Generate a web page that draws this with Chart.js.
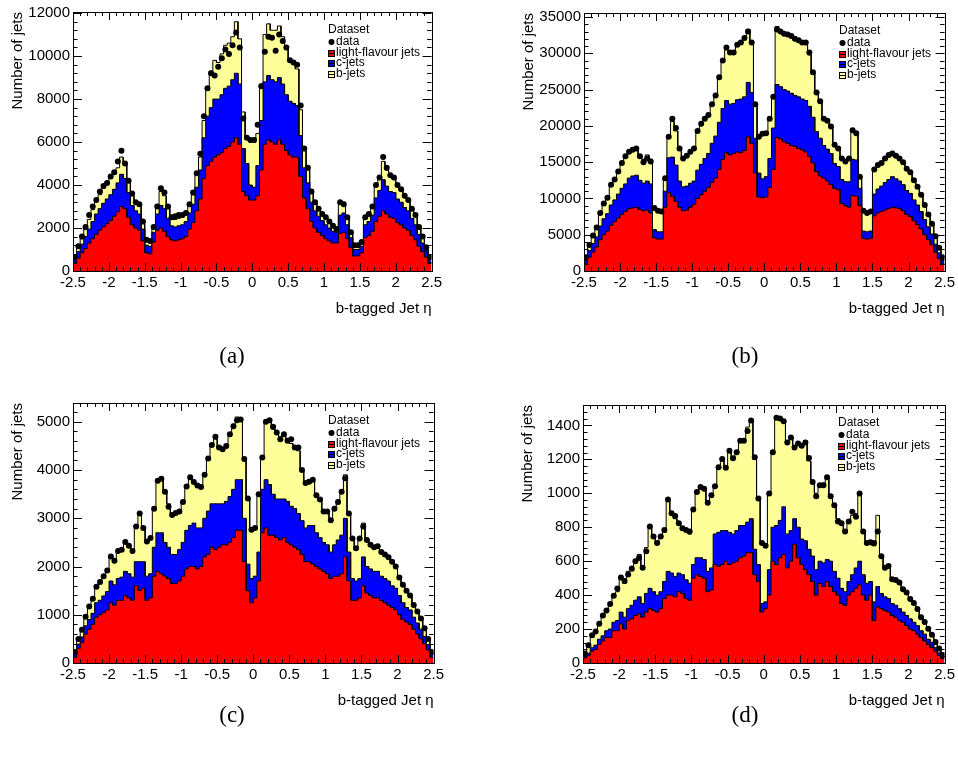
<!DOCTYPE html>
<html>
<head>
<meta charset="utf-8">
<script src="https://cdn.jsdelivr.net/npm/chart.js@4.4.1/dist/chart.umd.min.js"></script>
<style>
  html, body { margin: 0; background: #fff; }
  #page { position: relative; width: 958px; height: 765px; overflow: hidden; }
  #page canvas { position: absolute; }
  .cap {
    position: absolute;
    font: 23px "Liberation Serif", "Times New Roman", serif;
    color: #000;
    transform: translate(-50%, -50%);
  }
</style>
</head>
<body>
<div id="page"></div>
<script>
// Four stacked eta histograms (100 bins of 0.05 between -2.5 and 2.5).
const ETA_MIN = -2.5;
const ETA_MAX = 2.5;
const BIN_WIDTH = 0.05;
const N_BINS = 100;
const X_TICKS = [-2.5, -2, -1.5, -1, -0.5, 0, 0.5, 1, 1.5, 2, 2.5];

// (a)
const lightA = [
  350, 600, 850, 1050, 1300, 1500, 1700, 1900, 2050, 2200,
  2350, 2550, 2750, 3000, 2900, 2500, 2150, 2000, 1900, 1400,
  850, 800, 1350, 1900, 2000, 1850, 1600, 1450, 1400, 1450,
  1500, 1600, 1950, 2250, 2800, 3350, 4300, 4900, 5100, 5300,
  5400, 5500, 5700, 5800, 6000, 6200, 5900, 3700, 3500, 3300,
  3300, 3500, 4700, 5900, 6100, 6000, 5900, 6100, 5900, 5600,
  5400, 5300, 5300, 4400, 3400, 2900, 2300, 2000, 1800, 1650,
  1500, 1400, 1300, 1300, 1750, 1800, 1500, 1100, 700, 700,
  850, 1550, 1650, 1850, 2300, 2550, 2800, 2650, 2500, 2450,
  2250, 2150, 2000, 1900, 1650, 1450, 1150, 900, 650, 350,
];
const cjetsA = [
  180, 300, 400, 550, 650, 800, 950, 1000, 1100, 1150,
  1200, 1250, 1350, 1500, 1400, 1150, 900, 800, 750, 550,
  350, 350, 450, 750, 1050, 1050, 850, 650, 650, 650,
  650, 700, 750, 850, 1100, 1350, 1900, 2300, 2500, 2700,
  2600, 2700, 2800, 2800, 2900, 3000, 2800, 2000, 1500, 700,
  600, 1400, 2300, 2900, 3000, 2900, 2900, 2900, 2800, 2600,
  2500, 2500, 2400, 1900, 1400, 1200, 900, 800, 750, 700,
  650, 600, 550, 500, 850, 900, 650, 450, 300, 300,
  300, 600, 650, 750, 1100, 1200, 1450, 1300, 1200, 1200,
  1100, 1050, 950, 900, 800, 700, 550, 400, 300, 180,
];
const bjetsA = [
  120, 200, 250, 350, 450, 550, 600, 650, 700, 700,
  750, 700, 700, 800, 700, 550, 450, 400, 400, 250,
  200, 200, 200, 350, 650, 600, 450, 350, 350, 350,
  350, 350, 400, 450, 550, 600, 800, 1200, 1700, 1800,
  1700, 1900, 2000, 2000, 2000, 2400, 2100, 1700, 1200, 2000,
  2100, 1500, 1700, 2200, 2400, 2300, 2400, 2400, 2200, 2100,
  1900, 1900, 1700, 1200, 800, 600, 500, 400, 350, 300,
  300, 300, 250, 250, 500, 500, 350, 250, 200, 200,
  200, 350, 350, 400, 550, 650, 850, 750, 700, 650,
  650, 600, 550, 500, 450, 400, 300, 250, 150, 120,
];
const dataA = [
  650, 1150, 1600, 2050, 2600, 3000, 3300, 3700, 3950, 4100,
  4400, 4600, 5100, 5600, 5000, 4200, 3600, 3200, 3100, 2300,
  1450, 1400, 2050, 3000, 3850, 3650, 3000, 2500, 2550, 2600,
  2600, 2700, 3100, 3650, 4550, 5450, 7200, 8500, 9200, 9100,
  9500, 9900, 10300, 10100, 10500, 11100, 10400, 7100, 6200, 6100,
  6100, 6800, 8600, 10200, 10900, 10850, 10250, 11000, 10700, 10400,
  9800, 9700, 9600, 7700, 5700, 4800, 3700, 3200, 2900, 2650,
  2500, 2300, 2100, 1950, 3200, 3100, 2500, 1800, 1200, 1200,
  1350, 2500, 2650, 3000, 4000, 4350, 5300, 4800, 4450, 4350,
  4000, 3800, 3500, 3300, 2900, 2600, 2050, 1600, 1100, 650,
];

// (b)
const lightB = [
  1000, 1900, 2600, 3300, 4300, 5000, 5500, 6300, 6800, 7300,
  7800, 8200, 8600, 8700, 8800, 8500, 8300, 8400, 8000, 4600,
  4400, 4400, 8800, 10800, 10300, 9600, 8800, 8300, 8400, 8800,
  9200, 10000, 10500, 11000, 11500, 12200, 12800, 14000, 15400, 16300,
  16000, 16200, 16400, 16300, 16600, 18500, 17600, 13500, 10200, 10100,
  10200, 11500, 14000, 18400, 18200, 17800, 17600, 17300, 17200, 16900,
  16700, 16400, 15800, 14900, 13700, 13100, 12800, 12400, 11900, 11400,
  11200, 9300, 9000, 8800, 10400, 10300, 9000, 4500, 4400, 4500,
  7600, 8000, 8200, 8400, 8600, 8800, 8700, 8600, 8300, 7800,
  7500, 6900, 6400, 5800, 5000, 4300, 3600, 2600, 1700, 1000,
];
const cjetsB = [
  450, 900, 1200, 1400, 1900, 2200, 2400, 2800, 3000, 3300,
  3600, 3800, 4200, 4400, 4400, 4000, 3800, 4000, 4000, 1100,
  1000, 1000, 2200, 4800, 5400, 5000, 3600, 3300, 3300, 3300,
  3200, 3900, 4200, 4500, 4700, 5400, 5800, 6500, 7000, 7200,
  7000, 6900, 7200, 7400, 7400, 7500, 7000, 4800, 3300, 2600,
  2800, 4000, 5700, 7300, 7200, 7200, 7200, 7200, 7000, 7100,
  7000, 7100, 6900, 6300, 5500, 5200, 4500, 4400, 4300, 3400,
  3200, 3300, 3300, 3500, 5000, 5000, 2400, 1000, 1000, 1000,
  3000, 3300, 3500, 3800, 4000, 4200, 4000, 3800, 3600, 3300,
  3200, 2900, 2700, 2400, 2100, 1800, 1500, 1100, 800, 450,
];
const bjetsB = [
  400, 750, 1050, 1300, 1700, 2000, 2200, 2600, 2800, 3000,
  3300, 3600, 3600, 3600, 3700, 3400, 3300, 3600, 3400, 3000,
  2800, 2800, 1800, 2900, 4900, 4700, 4200, 3800, 4000, 4200,
  4400, 5200, 5400, 5400, 5300, 5400, 5500, 6100, 6600, 7000,
  7000, 7100, 7500, 7700, 8000, 7300, 6900, 4700, 5000, 6000,
  5800, 5400, 4200, 8000, 7700, 7600, 7700, 7800, 7600, 7700,
  7600, 7700, 7100, 6000, 5200, 4900, 3600, 3700, 3600, 2600,
  2400, 2800, 2700, 3100, 3900, 3600, 1600, 2800, 2600, 2700,
  3300, 3300, 3200, 3300, 3400, 3400, 3300, 3100, 3000, 2900,
  2800, 2600, 2400, 2200, 1900, 1600, 1300, 1000, 650, 400,
];
const dataB = [
  1900, 3600, 4900, 6000, 8000, 9300, 10100, 11900, 12600, 13700,
  14900, 15800, 16450, 16700, 16900, 15800, 15000, 15500, 15100, 8700,
  8300, 8200, 12800, 18500, 21000, 19700, 16900, 15500, 15900, 16450,
  16900, 19300, 20300, 21000, 21500, 23000, 24200, 26700, 29000, 30800,
  30100, 30100, 31200, 31500, 32100, 33000, 31500, 23000, 18500, 18900,
  19000, 21000, 24000, 33300, 33000, 32700, 32600, 32400, 32000, 31800,
  31500, 31500, 30100, 27400, 24600, 23400, 21000, 20700, 19900, 17400,
  16900, 15500, 15100, 15500, 19400, 19000, 13000, 8300, 8000, 8200,
  14000, 14600, 14900, 15500, 16000, 16200, 15900, 15500, 15000, 14100,
  13600, 12500, 11600, 10500, 9100, 7800, 6500, 4800, 3200, 1900,
];

// (c)
const lightC = [
  120, 300, 420, 600, 700, 800, 950, 1000, 1050, 1100,
  1250, 1200, 1300, 1300, 1400, 1350, 1300, 1600, 1500, 1550,
  1300, 1350, 1800, 1900, 1850, 1800, 1750, 1650, 1650, 1700,
  1800, 1950, 2000, 2000, 1950, 2000, 2200, 2250, 2400, 2350,
  2400, 2450, 2450, 2500, 2600, 2750, 2750, 2100, 1500, 1250,
  1350, 1700, 2700, 2800, 2650, 2650, 2600, 2550, 2600, 2500,
  2450, 2400, 2350, 2250, 2100, 2100, 2050, 2000, 1950, 1900,
  1850, 1750, 1800, 1800, 1850, 2200, 1700, 1300, 1300, 1350,
  1600, 1450, 1400, 1350, 1350, 1300, 1250, 1200, 1150, 1100,
  1000, 900, 850, 800, 700, 600, 500, 400, 270, 120,
];
const cjetsC = [
  60, 90, 120, 170, 200, 230, 300, 300, 340, 380,
  450, 420, 450, 480, 500, 500, 480, 500, 600, 550,
  500, 500, 600, 800, 850, 700, 650, 600, 600, 650,
  700, 800, 850, 900, 850, 800, 800, 900, 900, 950,
  900, 850, 900, 950, 1000, 1050, 1050, 900, 550, 500,
  450, 600, 900, 1000, 1050, 850, 800, 850, 800, 850,
  800, 800, 750, 700, 700, 750, 800, 700, 650, 600,
  600, 550, 650, 750, 800, 800, 600, 450, 400, 400,
  600, 550, 550, 550, 550, 500, 500, 500, 450, 450,
  400, 350, 300, 300, 250, 230, 200, 150, 110, 60,
];
const bjetsC = [
  60, 100, 140, 200, 250, 300, 350, 360, 400, 450,
  500, 480, 550, 580, 600, 600, 550, 700, 1000, 700,
  700, 750, 800, 1050, 1100, 1050, 900, 850, 850, 800,
  850, 900, 1000, 850, 900, 850, 900, 1050, 1200, 1350,
  1150, 1150, 1150, 1250, 1350, 1300, 1250, 1250, 1350, 1000,
  1000, 1200, 650, 1200, 1300, 1350, 1350, 1300, 1300, 1300,
  1300, 1250, 1300, 1050, 950, 950, 950, 800, 800, 650,
  650, 650, 750, 750, 900, 900, 800, 800, 650, 800,
  700, 550, 500, 500, 550, 500, 500, 500, 500, 450,
  350, 350, 350, 300, 250, 230, 200, 170, 120, 60,
];
const dataC = [
  230, 500, 690, 960, 1170, 1330, 1580, 1680, 1800, 1920,
  2210, 2120, 2320, 2350, 2510, 2430, 2320, 2830, 3100, 2800,
  2520, 2590, 3200, 3780, 3820, 3550, 3240, 3070, 3110, 3140,
  3340, 3660, 3850, 3750, 3680, 3650, 3900, 4240, 4520, 4690,
  4470, 4430, 4500, 4740, 4910, 5030, 5050, 4230, 3410, 2760,
  2800, 3500, 4260, 5000, 5030, 4900, 4780, 4640, 4740, 4610,
  4640, 4470, 4470, 4000, 3730, 3760, 3800, 3480, 3390, 3140,
  3140, 2960, 3200, 3340, 3550, 3830, 3100, 2580, 2380, 2580,
  2830, 2550, 2450, 2400, 2420, 2300, 2250, 2190, 2100, 2000,
  1770, 1620, 1500, 1400, 1200, 1070, 920, 720, 500, 230,
];

// (d)
const lightD = [
  30, 45, 70, 80, 110, 130, 150, 150, 190, 190,
  230, 200, 250, 260, 280, 290, 270, 300, 320, 310,
  300, 320, 380, 400, 400, 390, 420, 410, 380, 370,
  500, 520, 510, 500, 420, 430, 580, 570, 580, 600,
  580, 590, 600, 620, 630, 650, 650, 520, 480, 300,
  320, 400, 600, 580, 620, 640, 560, 600, 700, 620,
  580, 550, 520, 480, 400, 470, 450, 480, 450, 420,
  400, 350, 340, 400, 420, 440, 460, 400, 370, 400,
  250, 330, 320, 310, 300, 280, 270, 250, 240, 220,
  200, 190, 170, 150, 130, 110, 90, 70, 45, 25,
];
const cjetsD = [
  8, 12, 20, 25, 30, 30, 40, 50, 50, 60,
  70, 70, 70, 80, 90, 100, 80, 110, 120, 110,
  100, 100, 100, 140, 130, 120, 110, 110, 110, 100,
  80, 100, 110, 110, 120, 130, 180, 200, 200, 180,
  190, 170, 180, 190, 180, 180, 200, 150, 100, 50,
  40, 150, 200, 230, 220, 280, 200, 180, 150, 180,
  150, 170, 150, 150, 150, 130, 140, 130, 150, 120,
  100, 90, 80, 80, 100, 120, 140, 120, 100, 80,
  110, 120, 90, 80, 80, 70, 70, 70, 60, 60,
  60, 50, 50, 40, 40, 30, 30, 20, 15, 10,
];
const bjetsD = [
  22, 40, 60, 75, 90, 110, 120, 140, 160, 170,
  200, 200, 220, 230, 240, 250, 210, 270, 360, 330,
  300, 330, 290, 420, 350, 340, 290, 280, 290, 290,
  320, 380, 420, 410, 400, 420, 280, 380, 420, 380,
  480, 440, 470, 500, 510, 560, 580, 530, 390, 360,
  340, 450, 450, 640, 600, 500, 550, 550, 420, 500,
  540, 590, 520, 430, 450, 440, 470, 480, 380, 390,
  350, 380, 350, 360, 350, 320, 400, 250, 240, 230,
  330, 420, 220, 170, 190, 150, 150, 150, 140, 130,
  120, 110, 100, 80, 70, 60, 50, 40, 25, 15,
];
const dataD = [
  56, 105, 163, 186, 231, 280, 309, 348, 396, 439,
  503, 483, 522, 555, 600, 619, 561, 658, 804, 746,
  707, 746, 784, 963, 882, 866, 823, 794, 784, 775,
  905, 1008, 1037, 1027, 944, 988, 1041, 1153, 1202, 1150,
  1250, 1206, 1241, 1309, 1309, 1367, 1429, 1212, 969, 707,
  691, 998, 1241, 1445, 1441, 1425, 1299, 1328, 1270, 1293,
  1280, 1299, 1208, 1066, 983, 1047, 1047, 1095, 983, 930,
  833, 823, 775, 833, 891, 862, 998, 775, 707, 711,
  707, 775, 629, 561, 571, 493, 489, 474, 435, 416,
  377, 353, 318, 270, 241, 202, 167, 124, 85, 47,
];

const LEGEND_LABELS = ["Dataset", "data", "light-flavour jets", "c-jets", "b-jets"];
const COLOR_LIGHT = "#ff0000";
const COLOR_C = "#0000ff";
const COLOR_B = "#ffff99";
const FONT = '"Liberation Sans", Arial, Helvetica, sans-serif';

// frame = plot-area box in page pixels
const PANELS = [
  { tag: "(a)", frame: [73, 9, 433, 271], yMax: 12050, yStep: 2000,
    light: lightA, cjets: cjetsA, bjets: bjetsA, data: dataA, cap: [232, 356] },
  { tag: "(b)", frame: [584, 10, 946, 271], yMax: 35560, yStep: 5000,
    light: lightB, cjets: cjetsB, bjets: bjetsB, data: dataB, cap: [745, 356] },
  { tag: "(c)", frame: [73, 400, 435, 663], yMax: 5390, yStep: 1000,
    light: lightC, cjets: cjetsC, bjets: bjetsC, data: dataC, cap: [232, 715] },
  { tag: "(d)", frame: [583, 402, 946, 663], yMax: 1520, yStep: 200,
    light: lightD, cjets: cjetsD, bjets: bjetsD, data: dataD, cap: [745, 715] },
];

const EDGES = [];
for (let i = 0; i <= N_BINS; i++) EDGES.push(+(ETA_MIN + i * BIN_WIDTH).toFixed(3));
const CENTERS = EDGES.slice(0, -1).map((e, i) => (e + EDGES[i + 1]) / 2);

// histogram outline: flat top across each bin, risers between bins
function stepPoints(values) {
  const pts = [];
  values.forEach((v, i) => {
    pts.push({ x: EDGES[i], y: v }, { x: EDGES[i + 1], y: v });
  });
  return pts;
}

// ROOT-like frame with inward major/minor ticks on all four sides
function framePlugin(p) {
  return {
    id: "rootFrame",
    afterDatasetsDraw(chart) {
      const { ctx, chartArea: a, scales } = chart;
      const x = scales.x, y = scales.y;
      ctx.save();
      ctx.strokeStyle = "#000";
      ctx.lineWidth = 1;
      ctx.beginPath();
      const nx = Math.round((ETA_MAX - ETA_MIN) / 0.1);
      for (let k = 0; k <= nx; k++) {
        const px = Math.round(x.getPixelForValue(ETA_MIN + k * 0.1)) + 0.5;
        const len = k % 5 === 0 ? 8 : 4;
        ctx.moveTo(px, a.bottom); ctx.lineTo(px, a.bottom - len);
        ctx.moveTo(px, a.top); ctx.lineTo(px, a.top + len);
      }
      const minor = p.yStep / 5;
      for (let k = 0; k * minor <= p.yMax; k++) {
        const py = Math.round(y.getPixelForValue(k * minor)) + 0.5;
        const len = k % 5 === 0 ? 9 : 4.5;
        ctx.moveTo(a.left, py); ctx.lineTo(a.left + len, py);
        ctx.moveTo(a.right, py); ctx.lineTo(a.right - len, py);
      }
      ctx.stroke();
      ctx.strokeRect(Math.round(a.left) + 0.5, Math.round(a.top) + 0.5,
        Math.round(a.right - a.left), Math.round(a.bottom - a.top));
      ctx.restore();
    },
  };
}

const legendPlugin = {
  id: "rootLegend",
  afterDraw(chart) {
    const { ctx, chartArea: a } = chart;
    const lx = a.left + 255, ty = a.top;
    const rows = [18, 30, 40.5, 51, 62];
    ctx.save();
    ctx.font = "12px " + FONT;
    ctx.textBaseline = "middle";
    ctx.fillStyle = "#000";
    ctx.fillText(LEGEND_LABELS[0], lx, ty + rows[0]);
    ctx.beginPath();
    ctx.arc(lx + 3.5, ty + rows[1], 3, 0, Math.PI * 2);
    ctx.fill();
    ctx.fillText(LEGEND_LABELS[1], lx + 8, ty + rows[1]);
    [COLOR_LIGHT, COLOR_C, COLOR_B].forEach((col, i) => {
      const yy = Math.round(ty + rows[i + 2]);
      ctx.fillStyle = col;
      ctx.fillRect(lx, yy - 3, 6, 7);
      ctx.strokeStyle = "#000";
      ctx.lineWidth = 1;
      ctx.strokeRect(lx + 0.5, yy - 2.5, 6, 6);
      ctx.beginPath();
      ctx.moveTo(lx, yy + 0.5); ctx.lineTo(lx + 7, yy + 0.5);
      ctx.stroke();
      ctx.fillStyle = "#000";
      ctx.fillText(LEGEND_LABELS[i + 2], lx + 8, ty + rows[i + 2]);
    });
    ctx.restore();
  },
};

const page = document.getElementById("page");
const PAD_LEFT = 73, PAD_TOP = 9, PAD_RIGHT = 12, PAD_BOTTOM = 80;

PANELS.forEach((p) => {
  const [L, T, R, B] = p.frame;
  const canvas = document.createElement("canvas");
  canvas.width = R - L + PAD_LEFT + PAD_RIGHT;
  canvas.height = B - T + PAD_TOP + PAD_BOTTOM;
  canvas.style.left = L - PAD_LEFT + "px";
  canvas.style.top = T - PAD_TOP + "px";
  page.appendChild(canvas);

  const lc = p.light.map((v, i) => v + p.cjets[i]);
  const total = lc.map((v, i) => v + p.bjets[i]);
  const tickFont = { family: FONT, size: 15 };
  const yTicks = [];
  for (let v = 0; v <= p.yMax; v += p.yStep) yTicks.push({ value: v });

  new Chart(canvas.getContext("2d"), {
    type: "line",
    data: {
      datasets: [
        {
          label: "data",
          data: p.data.map((v, i) => ({ x: CENTERS[i], y: v })),
          showLine: false,
          pointRadius: 3,
          pointBorderWidth: 0,
          pointBackgroundColor: "#000",
          borderColor: "#000",
        },
        {
          label: "light-flavour jets",
          data: stepPoints(p.light),
          borderColor: "#000",
          borderWidth: 1,
          backgroundColor: COLOR_LIGHT,
          fill: "origin",
          pointRadius: 0,
        },
        {
          label: "c-jets",
          data: stepPoints(lc),
          borderColor: "#000",
          borderWidth: 1,
          backgroundColor: COLOR_C,
          fill: "origin",
          pointRadius: 0,
        },
        {
          label: "b-jets",
          data: stepPoints(total),
          borderColor: "#000",
          borderWidth: 1,
          backgroundColor: COLOR_B,
          fill: "origin",
          pointRadius: 0,
        },
      ],
    },
    options: {
      responsive: false,
      animation: false,
      events: [],
      layout: { padding: { top: PAD_TOP, right: PAD_RIGHT, left: 0, bottom: 0 } },
      plugins: { legend: { display: false }, tooltip: { enabled: false } },
      scales: {
        x: {
          type: "linear",
          min: ETA_MIN,
          max: ETA_MAX,
          afterBuildTicks: (s) => { s.ticks = X_TICKS.map((v) => ({ value: v })); },
          grid: { display: false, drawTicks: false },
          border: { display: false },
          ticks: {
            color: "#000", font: tickFont, padding: 3,
            maxRotation: 0, autoSkip: false,
            callback: (v) => String(Number(v.toFixed(1))),
          },
          title: {
            display: true, text: "b-tagged Jet η", align: "end", color: "#000",
            font: tickFont, padding: { top: 0, bottom: 33 },
          },
          afterFit: (s) => { s.height = PAD_BOTTOM; },
        },
        y: {
          min: 0,
          max: p.yMax,
          afterBuildTicks: (s) => { s.ticks = yTicks.map((t) => ({ value: t.value })); },
          grid: { display: false, drawTicks: false },
          border: { display: false },
          ticks: {
            color: "#000", font: tickFont, padding: 3, autoSkip: false,
            callback: (v) => String(v),
          },
          title: {
            display: true, text: "Number of jets", align: "end", color: "#000",
            font: tickFont, padding: { top: 9, bottom: 0 },
          },
          afterFit: (s) => { s.width = PAD_LEFT; },
        },
      },
    },
    plugins: [framePlugin(p), legendPlugin],
  });

  const cap = document.createElement("div");
  cap.className = "cap";
  cap.textContent = p.tag;
  cap.style.left = p.cap[0] + "px";
  cap.style.top = p.cap[1] + "px";
  page.appendChild(cap);
});
</script>
</body>
</html>
